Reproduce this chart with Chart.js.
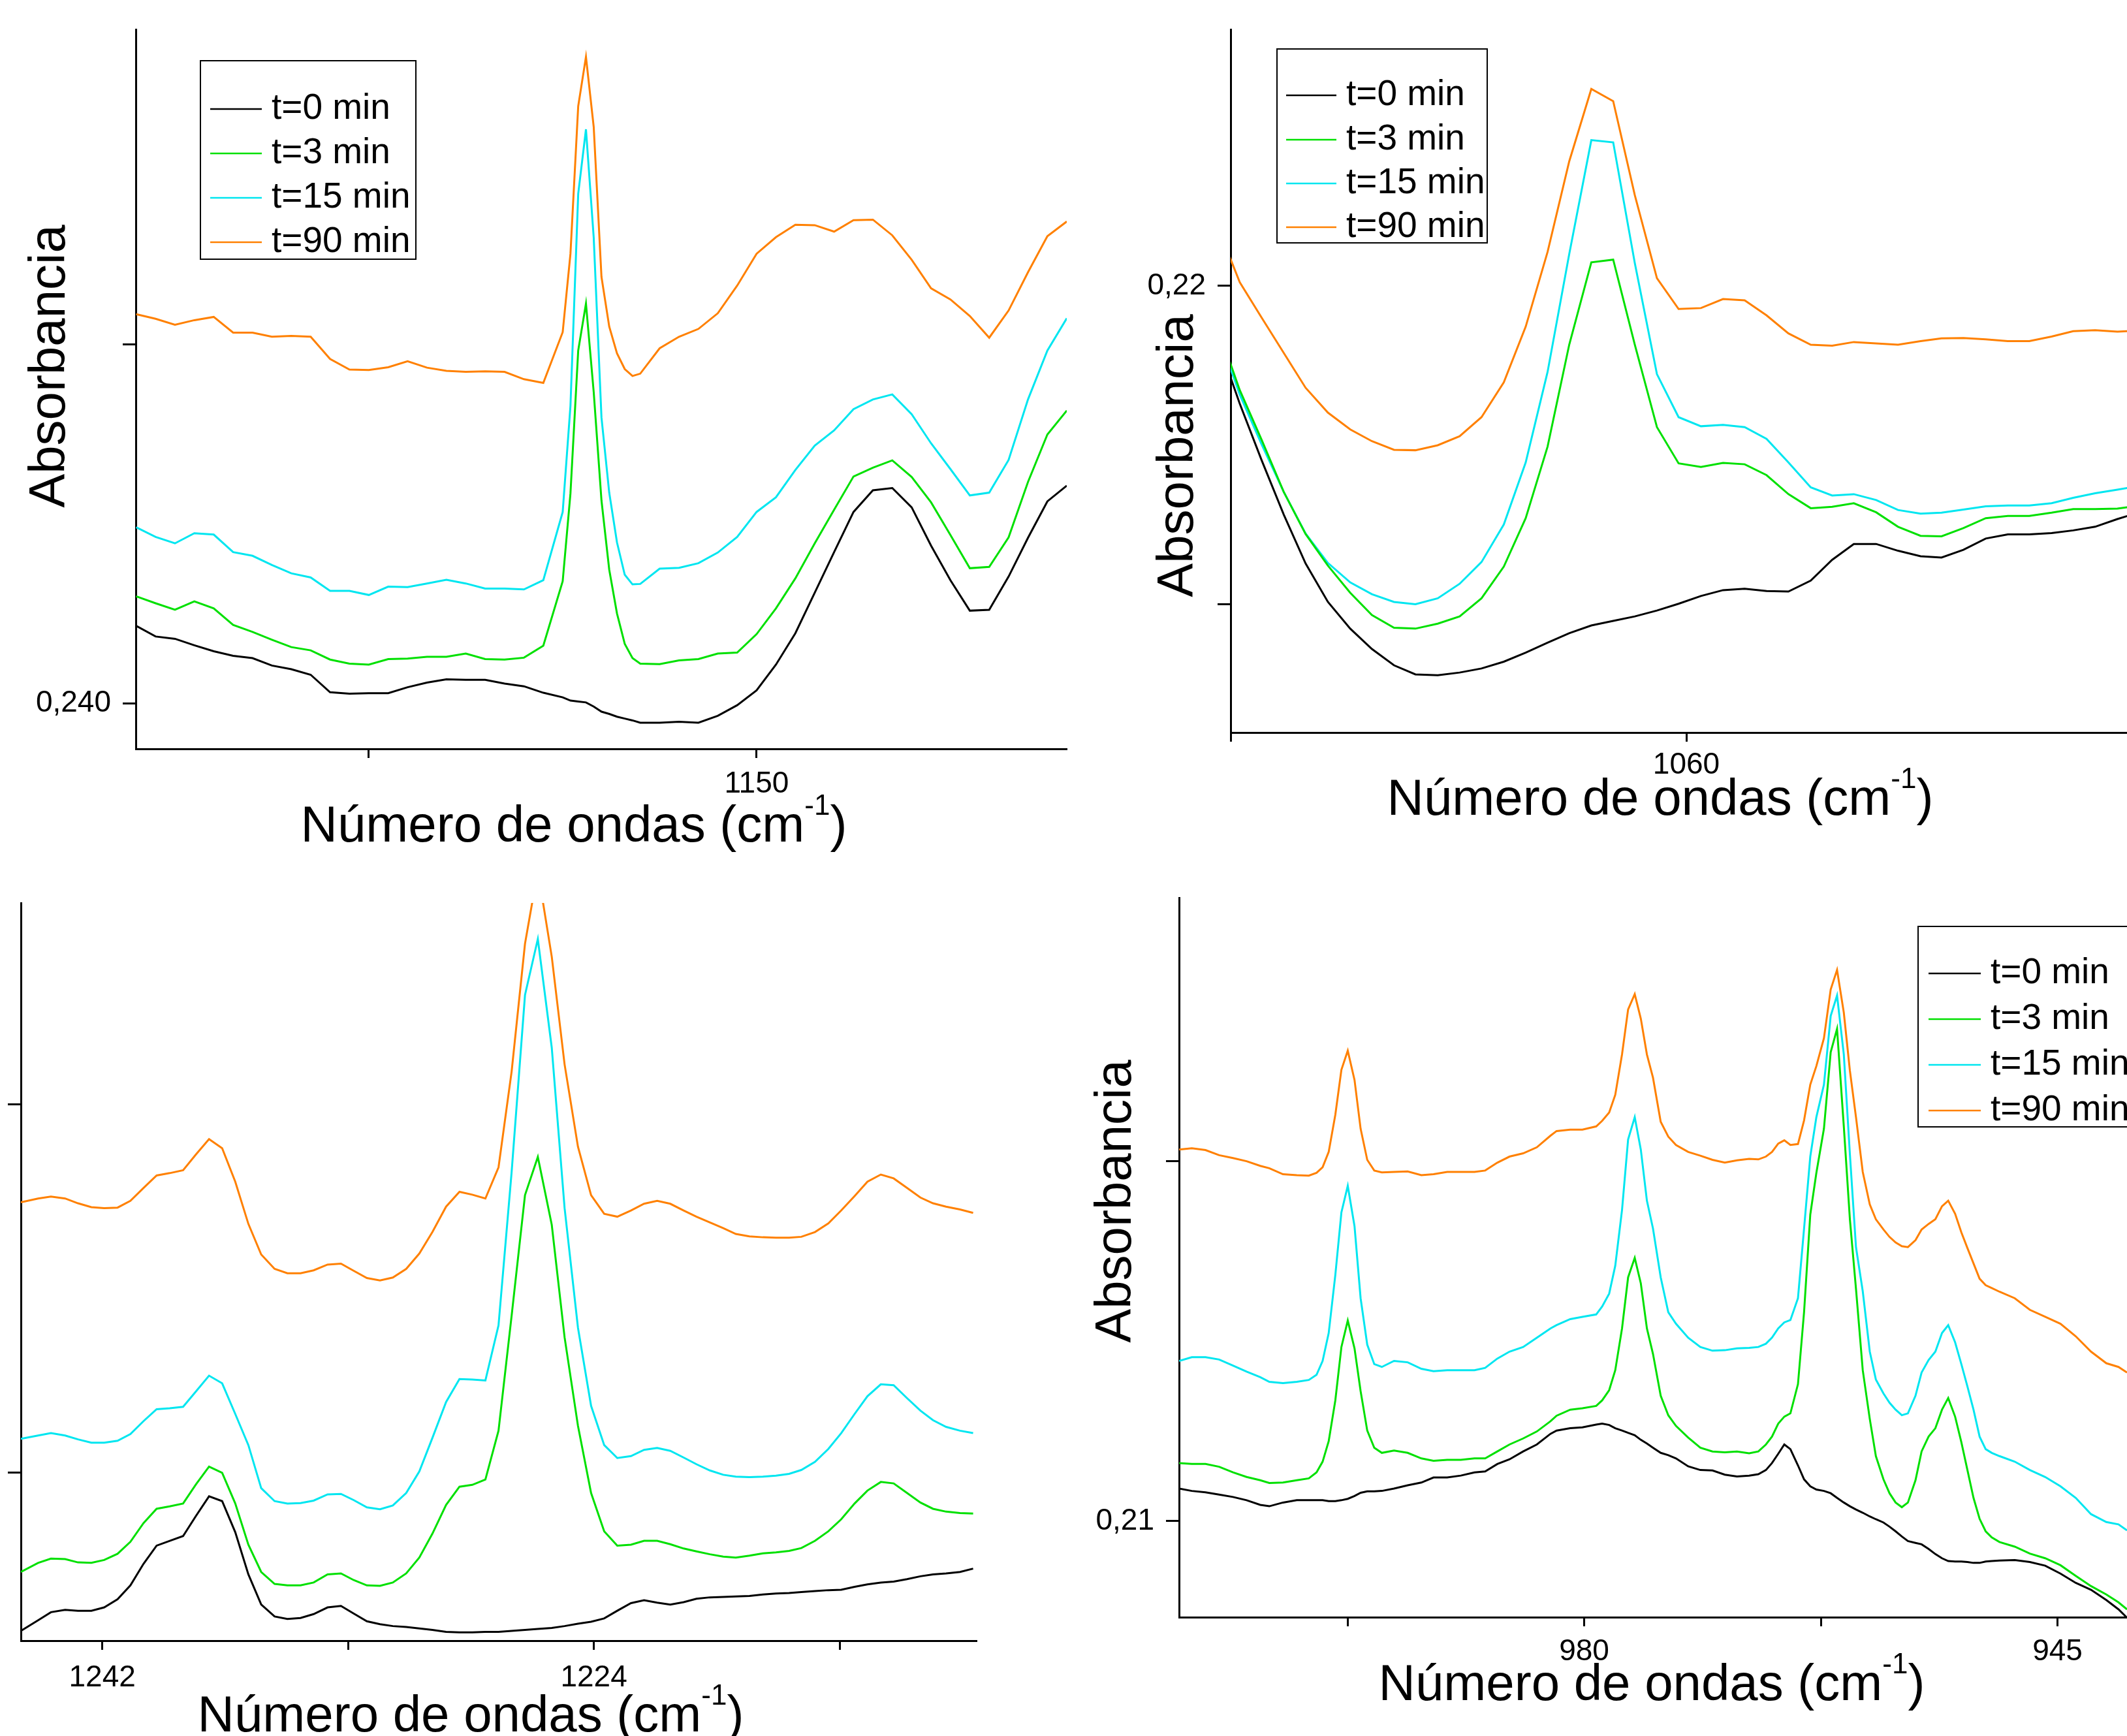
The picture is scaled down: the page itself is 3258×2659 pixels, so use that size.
<!DOCTYPE html>
<html>
<head>
<meta charset="utf-8">
<script src="https://cdn.jsdelivr.net/npm/chart.js@4.4.0/dist/chart.umd.min.js"></script>
<style>
html, body { margin: 0; padding: 0; background: #fff; }
body { width: 3258px; height: 2659px; position: relative; overflow: hidden; }
canvas { position: absolute; }
</style>
</head>
<body>
<canvas id="p1"></canvas>
<canvas id="p2"></canvas>
<canvas id="p3"></canvas>
<canvas id="p4"></canvas>
<script>
const series = ['t=0 min', 't=3 min', 't=15 min', 't=90 min'];
const lineColors = ['#000000', '#00e000', '#00e6f0', '#ff8000'];

// panel A, top left (1166 - 1142 cm-1)
const wnA = [1166,1165.5,1165,1164.5,1164,1163.5,1163,1162.5,1162,1161.5,1161,1160.5,1160,1159.5,1159,1158.5,1158,1157.5,1157,1156.5,1156,1155.5,1155,1154.8,1154.6,1154.4,1154.2,1154,1153.8,1153.6,1153.4,1153.2,1153,1152.5,1152,1151.5,1151,1150.5,1150,1149.5,1149,1148.5,1148,1147.5,1147,1146.5,1146,1145.5,1145,1144.5,1144,1143.5,1143,1142.5,1142];
const absA0 = [0.24168,0.24145,0.24140,0.24126,0.24113,0.24103,0.24098,0.24082,0.24074,0.24062,0.24024,0.24021,0.24022,0.24022,0.24035,0.24045,0.24052,0.24051,0.24051,0.24043,0.24037,0.24023,0.24013,0.24006,0.24004,0.24002,0.23993,0.23982,0.23977,0.23971,0.23967,0.23963,0.23958,0.23958,0.23960,0.23958,0.23973,0.23996,0.24028,0.24084,0.24152,0.24240,0.24328,0.24415,0.24462,0.24467,0.24425,0.24342,0.24267,0.24201,0.24203,0.24275,0.24359,0.24438,0.24472];
const absA3 = [0.24232,0.24217,0.24203,0.24221,0.24206,0.24170,0.24155,0.24138,0.24122,0.24115,0.24095,0.24086,0.24084,0.24096,0.24097,0.24101,0.24101,0.24108,0.24096,0.24095,0.24099,0.24125,0.24265,0.24455,0.24765,0.24867,0.24675,0.24440,0.24290,0.24195,0.24129,0.24098,0.24086,0.24085,0.24093,0.24096,0.24108,0.24110,0.24150,0.24206,0.24271,0.24347,0.24420,0.24492,0.24511,0.24527,0.24491,0.24436,0.24365,0.24293,0.24296,0.24360,0.24480,0.24583,0.24635];
const absA15 = [0.24382,0.24361,0.24347,0.24369,0.24366,0.24328,0.24320,0.24300,0.24282,0.24273,0.24244,0.24244,0.24235,0.24253,0.24252,0.24260,0.24268,0.24260,0.24249,0.24249,0.24247,0.24267,0.24415,0.24645,0.25105,0.25245,0.25010,0.24620,0.24457,0.24349,0.24279,0.24258,0.24259,0.24292,0.24294,0.24304,0.24327,0.24361,0.24415,0.24447,0.24506,0.24559,0.24592,0.24638,0.24659,0.24670,0.24627,0.24564,0.24508,0.24451,0.24457,0.24528,0.24659,0.24765,0.24835];
const absA90 = [0.24844,0.24834,0.24821,0.24831,0.24838,0.24804,0.24804,0.24795,0.24797,0.24795,0.24747,0.24724,0.24723,0.24729,0.24742,0.24728,0.24721,0.24719,0.24720,0.24719,0.24703,0.24695,0.24805,0.24975,0.25295,0.25402,0.25250,0.24925,0.24817,0.24759,0.24725,0.24710,0.24715,0.24770,0.24795,0.24812,0.24846,0.24906,0.24975,0.25011,0.25038,0.25037,0.25023,0.25048,0.25049,0.25015,0.24962,0.24900,0.24876,0.24840,0.24793,0.24852,0.24935,0.25013,0.25045];
const xTicksA = [1160, 1150];
const xTickTextA = ['', '1150'];
const yTicksA = [0.24778, 0.240];
const yTickTextA = ['', '0,240'];

// panel B, top right (1080 - 1040 cm-1)
const wnB = [1080.56,1079.60,1078.64,1077.67,1076.71,1075.73,1074.75,1073.80,1072.83,1071.89,1070.91,1069.95,1068.99,1068.01,1067.05,1066.09,1065.14,1064.17,1063.21,1062.26,1061.29,1060.34,1059.36,1058.39,1057.44,1056.48,1055.52,1054.54,1053.60,1052.65,1051.67,1050.71,1049.72,1048.80,1047.84,1046.86,1045.89,1044.95,1043.97,1043.02,1042.06,1041.08,1040.12];
const absB0 = [0.21877,0.21740,0.21615,0.21495,0.21387,0.21302,0.21243,0.21198,0.21162,0.21142,0.21140,0.21146,0.21155,0.21170,0.21190,0.21212,0.21233,0.21250,0.21260,0.21270,0.21283,0.21298,0.21315,0.21328,0.21331,0.21326,0.21325,0.21349,0.21395,0.21430,0.21430,0.21415,0.21403,0.21400,0.21417,0.21442,0.21451,0.21451,0.21454,0.21460,0.21468,0.21485,0.21500];
const absB3 = [0.21907,0.21770,0.21660,0.21545,0.21452,0.21382,0.21322,0.21273,0.21245,0.21243,0.21254,0.21270,0.21310,0.21380,0.21487,0.21645,0.21870,0.22052,0.22058,0.21870,0.21688,0.21608,0.21600,0.21609,0.21606,0.21582,0.21540,0.21509,0.21512,0.21520,0.21500,0.21468,0.21448,0.21447,0.21465,0.21487,0.21492,0.21492,0.21499,0.21507,0.21507,0.21508,0.21515];
const absB15 = [0.21897,0.21760,0.21650,0.21545,0.21453,0.21388,0.21345,0.21319,0.21302,0.21297,0.21310,0.21342,0.21390,0.21473,0.21610,0.21810,0.22070,0.22322,0.22317,0.22050,0.21805,0.21710,0.21690,0.21693,0.21688,0.21662,0.21610,0.21555,0.21537,0.21540,0.21527,0.21505,0.21497,0.21499,0.21506,0.21513,0.21515,0.21515,0.21520,0.21532,0.21542,0.21550,0.21558];
const absB90 = [0.22130,0.22008,0.21930,0.21852,0.21775,0.21720,0.21683,0.21657,0.21638,0.21637,0.21648,0.21668,0.21710,0.21787,0.21910,0.22075,0.22275,0.22435,0.22408,0.22200,0.22017,0.21949,0.21951,0.21971,0.21968,0.21935,0.21895,0.21870,0.21868,0.21876,0.21873,0.21870,0.21878,0.21884,0.21885,0.21882,0.21878,0.21878,0.21888,0.21900,0.21902,0.21899,0.21901];
const xTicksB = [1080, 1060];
const xTickTextB = ['', '1060'];
const yTicksB = [0.22, 0.21297];
const yTickTextB = ['0,22', ''];

// panel C, bottom left (1245 - 1210 cm-1)
const wnC = [1244.98,1244.35,1243.88,1243.36,1242.89,1242.40,1241.93,1241.44,1240.97,1240.49,1240.01,1239.53,1239.04,1238.57,1238.09,1237.61,1237.13,1236.65,1236.18,1235.69,1235.22,1234.74,1234.26,1233.75,1233.26,1232.79,1232.31,1231.83,1231.36,1230.87,1230.39,1229.91,1229.41,1228.92,1228.45,1227.97,1227.49,1227.01,1226.52,1226.05,1225.54,1225.07,1224.58,1224.10,1223.62,1223.14,1222.64,1222.16,1221.68,1221.20,1220.71,1220.24,1219.75,1219.26,1218.80,1218.30,1217.81,1217.33,1216.85,1216.40,1215.90,1215.41,1214.94,1214.45,1213.98,1213.49,1213.02,1212.53,1212.04,1211.58,1211.10,1210.59,1210.11];
const absC0 = [0.21462,0.21484,0.21501,0.21506,0.21504,0.21504,0.21511,0.21528,0.21557,0.21602,0.21640,0.21650,0.21660,0.21702,0.21743,0.21733,0.21668,0.21580,0.21517,0.21492,0.21487,0.21489,0.21497,0.21511,0.21514,0.21498,0.21482,0.21476,0.21472,0.21470,0.21467,0.21464,0.21460,0.21459,0.21459,0.21460,0.21460,0.21462,0.21464,0.21466,0.21468,0.21472,0.21477,0.21481,0.21488,0.21504,0.21520,0.21526,0.21521,0.21517,0.21522,0.21529,0.21532,0.21533,0.21534,0.21535,0.21538,0.21540,0.21541,0.21543,0.21545,0.21547,0.21548,0.21554,0.21559,0.21563,0.21565,0.21570,0.21576,0.21580,0.21582,0.21585,0.21592];
const absC3 = [0.21585,0.21604,0.21613,0.21612,0.21605,0.21604,0.21610,0.21623,0.21648,0.21687,0.21717,0.21722,0.21728,0.21768,0.21805,0.21792,0.21728,0.21642,0.21585,0.21560,0.21557,0.21557,0.21563,0.21580,0.21582,0.21568,0.21557,0.21556,0.21563,0.21582,0.21615,0.21665,0.21725,0.21763,0.21767,0.21778,0.21880,0.22120,0.22372,0.22452,0.22310,0.22075,0.21890,0.21750,0.21670,0.21640,0.21642,0.21650,0.21650,0.21643,0.21634,0.21628,0.21622,0.21617,0.21615,0.21619,0.21624,0.21626,0.21629,0.21635,0.21650,0.21670,0.21695,0.21728,0.21755,0.21773,0.21770,0.21750,0.21730,0.21717,0.21711,0.21708,0.21707];
const absC15 = [0.21863,0.21870,0.21875,0.21870,0.21862,0.21855,0.21855,0.21859,0.21873,0.21900,0.21925,0.21927,0.21930,0.21962,0.21995,0.21979,0.21915,0.21850,0.21760,0.21733,0.21728,0.21729,0.21734,0.21747,0.21748,0.21735,0.21720,0.21716,0.21724,0.21750,0.21795,0.21865,0.21940,0.21988,0.21987,0.21985,0.22100,0.22420,0.22790,0.22907,0.22680,0.22345,0.22095,0.21932,0.21850,0.21823,0.21827,0.21840,0.21844,0.21838,0.21824,0.21810,0.21797,0.21788,0.21784,0.21783,0.21784,0.21786,0.21790,0.21798,0.21815,0.21842,0.21875,0.21915,0.21952,0.21977,0.21975,0.21948,0.21922,0.21902,0.21888,0.21880,0.21875];
const absC90 = [0.22357,0.22365,0.22369,0.22365,0.22355,0.22347,0.22345,0.22346,0.22360,0.22387,0.22413,0.22418,0.22424,0.22457,0.22489,0.22470,0.22400,0.22312,0.22248,0.22218,0.22209,0.22209,0.22215,0.22227,0.22229,0.22214,0.22199,0.22194,0.22200,0.22218,0.22250,0.22295,0.22348,0.22379,0.22373,0.22365,0.22430,0.22630,0.22897,0.23050,0.22870,0.22645,0.22473,0.22372,0.22333,0.22327,0.22340,0.22354,0.22360,0.22354,0.22340,0.22327,0.22315,0.22303,0.22291,0.22286,0.22284,0.22283,0.22283,0.22285,0.22295,0.22313,0.22340,0.22370,0.22400,0.22415,0.22407,0.22387,0.22367,0.22355,0.22348,0.22342,0.22335];
const xTicksC = [1242, 1233, 1224, 1215];
const xTickTextC = ['1242', '', '1224', ''];
const yTicksC = [0.22562, 0.21792];
const yTickTextC = ['', ''];

// panel D, bottom right (1010 - 940 cm-1)
const wnD = [1009.95,1009.01,1008.00,1006.99,1005.97,1004.96,1003.95,1003.28,1002.27,1001.25,1000.36,999.79,999.34,998.89,998.40,997.95,997.48,996.98,996.53,996.04,995.52,994.96,994.06,993.05,992.04,991.14,990.13,989.12,988.11,987.32,986.42,985.52,984.51,983.50,982.49,982.04,981.03,980.13,979.11,978.67,978.15,977.70,977.20,976.75,976.26,975.81,975.36,974.91,974.34,973.78,973.21,972.31,971.41,970.51,969.60,968.70,967.80,967.12,966.56,966.11,965.65,965.20,964.75,964.19,963.74,963.28,962.83,962.27,961.77,961.30,960.80,960.35,959.90,959.40,958.88,958.43,957.87,957.42,956.97,956.51,956.06,955.50,955.05,954.53,954.03,953.54,953.08,952.57,952.11,951.66,951.21,950.76,950.31,949.86,949.29,948.16,947.04,945.91,944.78,943.65,942.52,941.39,940.49,939.86];
const absD0 = [0.21070,0.21065,0.21062,0.21057,0.21052,0.21045,0.21035,0.21032,0.21040,0.21045,0.21045,0.21045,0.21045,0.21043,0.21043,0.21045,0.21048,0.21054,0.21061,0.21064,0.21064,0.21065,0.21070,0.21077,0.21083,0.21094,0.21094,0.21098,0.21105,0.21107,0.21123,0.21133,0.21150,0.21165,0.21188,0.21195,0.21200,0.21202,0.21208,0.21210,0.21207,0.21200,0.21195,0.21190,0.21185,0.21175,0.21167,0.21158,0.21147,0.21142,0.21135,0.21118,0.21110,0.21109,0.21100,0.21096,0.21098,0.21101,0.21110,0.21125,0.21145,0.21165,0.21155,0.21120,0.21090,0.21075,0.21068,0.21065,0.21060,0.21050,0.21040,0.21032,0.21025,0.21018,0.21010,0.21004,0.20997,0.20988,0.20978,0.20967,0.20957,0.20953,0.20950,0.20940,0.20929,0.20920,0.20914,0.20913,0.20913,0.20912,0.20910,0.20910,0.20913,0.20914,0.20915,0.20916,0.20912,0.20904,0.20887,0.20867,0.20852,0.20830,0.20810,0.20792];
const absD3 = [0.21125,0.21123,0.21123,0.21117,0.21105,0.21095,0.21088,0.21082,0.21083,0.21088,0.21092,0.21105,0.21128,0.21172,0.21260,0.21375,0.21432,0.21372,0.21280,0.21195,0.21158,0.21147,0.21152,0.21147,0.21135,0.21130,0.21132,0.21132,0.21135,0.21135,0.21150,0.21165,0.21178,0.21193,0.21215,0.21227,0.21240,0.21243,0.21248,0.21260,0.21282,0.21325,0.21415,0.21525,0.21567,0.21512,0.21415,0.21360,0.21270,0.21228,0.21205,0.21180,0.21158,0.21150,0.21148,0.21150,0.21146,0.21150,0.21165,0.21182,0.21210,0.21225,0.21232,0.21295,0.21450,0.21660,0.21750,0.21845,0.22010,0.22060,0.21850,0.21650,0.21500,0.21325,0.21220,0.21140,0.21090,0.21060,0.21040,0.21030,0.21040,0.21088,0.21150,0.21182,0.21200,0.21240,0.21265,0.21225,0.21170,0.21110,0.21050,0.21005,0.20978,0.20965,0.20955,0.20945,0.20930,0.20920,0.20905,0.20882,0.20860,0.20842,0.20825,0.20810];
const absD15 = [0.21345,0.21353,0.21353,0.21348,0.21335,0.21322,0.21310,0.21300,0.21297,0.21300,0.21304,0.21315,0.21345,0.21405,0.21530,0.21665,0.21722,0.21635,0.21480,0.21380,0.21338,0.21332,0.21345,0.21342,0.21328,0.21323,0.21325,0.21325,0.21325,0.21330,0.21350,0.21365,0.21375,0.21395,0.21415,0.21422,0.21435,0.21440,0.21445,0.21462,0.21490,0.21550,0.21670,0.21822,0.21870,0.21800,0.21690,0.21630,0.21525,0.21450,0.21425,0.21395,0.21375,0.21367,0.21368,0.21372,0.21373,0.21375,0.21382,0.21395,0.21415,0.21428,0.21433,0.21480,0.21630,0.21785,0.21870,0.21940,0.22088,0.22132,0.22005,0.21790,0.21590,0.21495,0.21365,0.21305,0.21275,0.21255,0.21240,0.21228,0.21232,0.21270,0.21320,0.21347,0.21365,0.21405,0.21422,0.21385,0.21338,0.21290,0.21240,0.21182,0.21155,0.21147,0.21140,0.21128,0.21110,0.21095,0.21075,0.21050,0.21015,0.20998,0.20993,0.20980];
const absD90 = [0.21800,0.21803,0.21799,0.21788,0.21782,0.21775,0.21765,0.21760,0.21747,0.21745,0.21744,0.21750,0.21762,0.21795,0.21875,0.21972,0.22013,0.21950,0.21845,0.21778,0.21755,0.21751,0.21752,0.21753,0.21745,0.21747,0.21752,0.21752,0.21752,0.21755,0.21772,0.21785,0.21792,0.21805,0.21830,0.21840,0.21843,0.21843,0.21850,0.21862,0.21880,0.21918,0.22005,0.22102,0.22135,0.22082,0.22005,0.21955,0.21860,0.21828,0.21810,0.21795,0.21787,0.21778,0.21772,0.21777,0.21780,0.21779,0.21785,0.21795,0.21813,0.21820,0.21810,0.21812,0.21863,0.21940,0.21980,0.22040,0.22145,0.22187,0.22095,0.21970,0.21870,0.21752,0.21682,0.21650,0.21628,0.21612,0.21600,0.21592,0.21590,0.21605,0.21628,0.21640,0.21650,0.21678,0.21690,0.21662,0.21622,0.21588,0.21555,0.21522,0.21508,0.21502,0.21494,0.21480,0.21455,0.21440,0.21425,0.21398,0.21365,0.21340,0.21332,0.21320];
const xTicksD = [997.5, 980, 962.5, 945];
const xTickTextD = ['', '980', '', '945'];
const yTicksD = [0.21775, 0.21];
const yTickTextD = ['', '0,21'];

const FONT = '"Liberation Sans", Arial, sans-serif';
Chart.defaults.font.family = FONT;
Chart.defaults.color = '#000';

// titles, superscript and the boxed legend
const deco = {
  id: 'deco',
  afterDraw(chart, args, o) {
    const ctx = chart.ctx;
    ctx.save();
    ctx.translate(-o.ox, -o.oy);
    ctx.fillStyle = '#000';
    ctx.textBaseline = 'alphabetic';
    if (o.xTitle) {
      const [cx, by] = o.xTitle;
      const a = 'Número de ondas (cm', b = '-1', c = ')';
      ctx.font = '78px ' + FONT;
      const wa = ctx.measureText(a).width, wc = ctx.measureText(c).width;
      ctx.font = '44px ' + FONT;
      const wb = ctx.measureText(b).width;
      let x = cx - (wa + wb + wc) / 2;
      ctx.textAlign = 'left';
      ctx.font = '78px ' + FONT;
      ctx.fillText(a, x, by);
      x += wa;
      ctx.font = '44px ' + FONT;
      ctx.fillText(b, x, by - 41);
      x += wb;
      ctx.font = '78px ' + FONT;
      ctx.fillText(c, x, by);
    }
    if (o.yTitle) {
      ctx.save();
      ctx.translate(o.yTitle[0], o.yTitle[1]);
      ctx.rotate(-Math.PI / 2);
      ctx.font = '78px ' + FONT;
      ctx.textAlign = 'center';
      ctx.fillText('Absorbancia', 0, 0);
      ctx.restore();
    }
    if (o.legend) {
      const L = o.legend;
      const [x0, y0, x1, y1] = L.box;
      ctx.fillStyle = '#fff';
      ctx.fillRect(x0, y0, x1 - x0, y1 - y0);
      ctx.strokeStyle = '#000';
      ctx.lineWidth = 2;
      ctx.strokeRect(x0, y0, x1 - x0, y1 - y0);
      ctx.font = '55px ' + FONT;
      ctx.textAlign = 'left';
      chart.data.datasets.forEach((ds, i) => {
        const y = L.rows[i];
        ctx.strokeStyle = ds.borderColor;
        ctx.lineWidth = 2.5;
        ctx.beginPath();
        ctx.moveTo(L.line[0], y);
        ctx.lineTo(L.line[1], y);
        ctx.stroke();
        ctx.fillStyle = '#000';
        ctx.fillText(ds.label, L.tx, y + 15);
      });
    }
    ctx.restore();
  }
};

function panel(id, box, plot, wn, sets, xr, yr, xt, xtt, yt, ytt, xPad, decoOpts) {
  const cv = document.getElementById(id);
  cv.width = box.w;
  cv.height = box.h;
  cv.style.left = box.l + 'px';
  cv.style.top = box.t + 'px';
  const yW = plot.l - box.l;
  const xH = box.t + box.h - plot.b;
  decoOpts.ox = box.l;
  decoOpts.oy = box.t;
  new Chart(cv, {
    type: 'line',
    data: {
      datasets: sets.map((vals, i) => ({
        label: series[i],
        data: wn.map((w, j) => ({ x: w, y: vals[j] })),
        borderColor: lineColors[i],
        borderWidth: 3,
        pointRadius: 0,
        tension: 0,
        fill: false
      }))
    },
    options: {
      responsive: false,
      animation: false,
      devicePixelRatio: 1,
      layout: { padding: { left: 0, top: plot.t - box.t, right: box.l + box.w - plot.r, bottom: 0 } },
      plugins: { legend: { display: false }, tooltip: { enabled: false }, deco: decoOpts },
      scales: {
        x: {
          type: 'linear', reverse: true, min: xr[0], max: xr[1],
          afterFit: s => { s.height = xH; },
          afterBuildTicks: s => { s.ticks = xt.map(v => ({ value: v })); },
          ticks: {
            callback: v => { const k = xt.indexOf(v); return k < 0 ? '' : xtt[k]; },
            autoSkip: false, maxRotation: 0, padding: xPad, color: '#000', font: { size: 46 }
          },
          grid: { drawOnChartArea: false, drawTicks: true, tickLength: 14, tickWidth: 3, tickColor: '#000' },
          border: { display: true, color: '#000', width: 3 }
        },
        y: {
          type: 'linear', min: yr[0], max: yr[1],
          afterFit: s => { s.width = yW; },
          afterBuildTicks: s => { s.ticks = yt.map(v => ({ value: v })); },
          ticks: {
            callback: v => { const k = yt.indexOf(v); return k < 0 ? '' : ytt[k]; },
            autoSkip: false, padding: 18, color: '#000', font: { size: 46 }
          },
          grid: { drawOnChartArea: false, drawTicks: true, tickLength: 20, tickWidth: 3, tickColor: '#000' },
          border: { display: true, color: '#000', width: 3 }
        }
      }
    },
    plugins: [deco]
  });
}

panel('p1', { l: 0, t: 0, w: 1640, h: 1330 }, { l: 208, t: 43, r: 1634, b: 1147 },
  wnA, [absA0, absA3, absA15, absA90], [1142.0, 1166.01], [0.239013, 0.254608],
  xTicksA, xTickTextA, yTicksA, yTickTextA, 13,
  { xTitle: [879, 1289], yTitle: [99, 561],
    legend: { box: [307, 93, 637, 397], line: [322, 401], tx: 416, rows: [167, 235, 303, 371] } });

panel('p2', { l: 1650, t: 0, w: 1608, h: 1310 }, { l: 1885, t: 43, r: 3258, b: 1122 },
  wnB, [absB0, absB3, absB15, absB90], [1040.66, 1080], [0.210135, 0.225657],
  xTicksB, xTickTextB, yTicksB, yTickTextB, 9,
  { xTitle: [2543, 1248], yTitle: [1827, 698],
    legend: { box: [1956, 75, 2278, 372], line: [1970, 2047], tx: 2062, rows: [146, 214, 281, 348] } });

panel('p3', { l: 0, t: 1330, w: 1650, h: 1329 }, { l: 32, t: 1383, r: 1496, b: 2513 },
  wnC, [absC0, absC3, absC15, absC90], [1209.98, 1244.98], [0.214415, 0.229823],
  xTicksC, xTickTextC, yTicksC, yTickTextC, 16,
  { xTitle: [721, 2652] });

panel('p4', { l: 1600, t: 1330, w: 1658, h: 1329 }, { l: 1806, t: 1356, r: 3258, b: 2477 },
  wnD, [absD0, absD3, absD15, absD90], [939.86, 1009.955], [0.207931, 0.223417],
  xTicksD, xTickTextD, yTicksD, yTickTextD, 12,
  { xTitle: [2530, 2604], yTitle: [1732, 1840],
    legend: { box: [2938, 1419, 3300, 1726], line: [2954, 3034], tx: 3049, rows: [1491, 1561, 1631, 1701] } });
</script>
</body>
</html>
